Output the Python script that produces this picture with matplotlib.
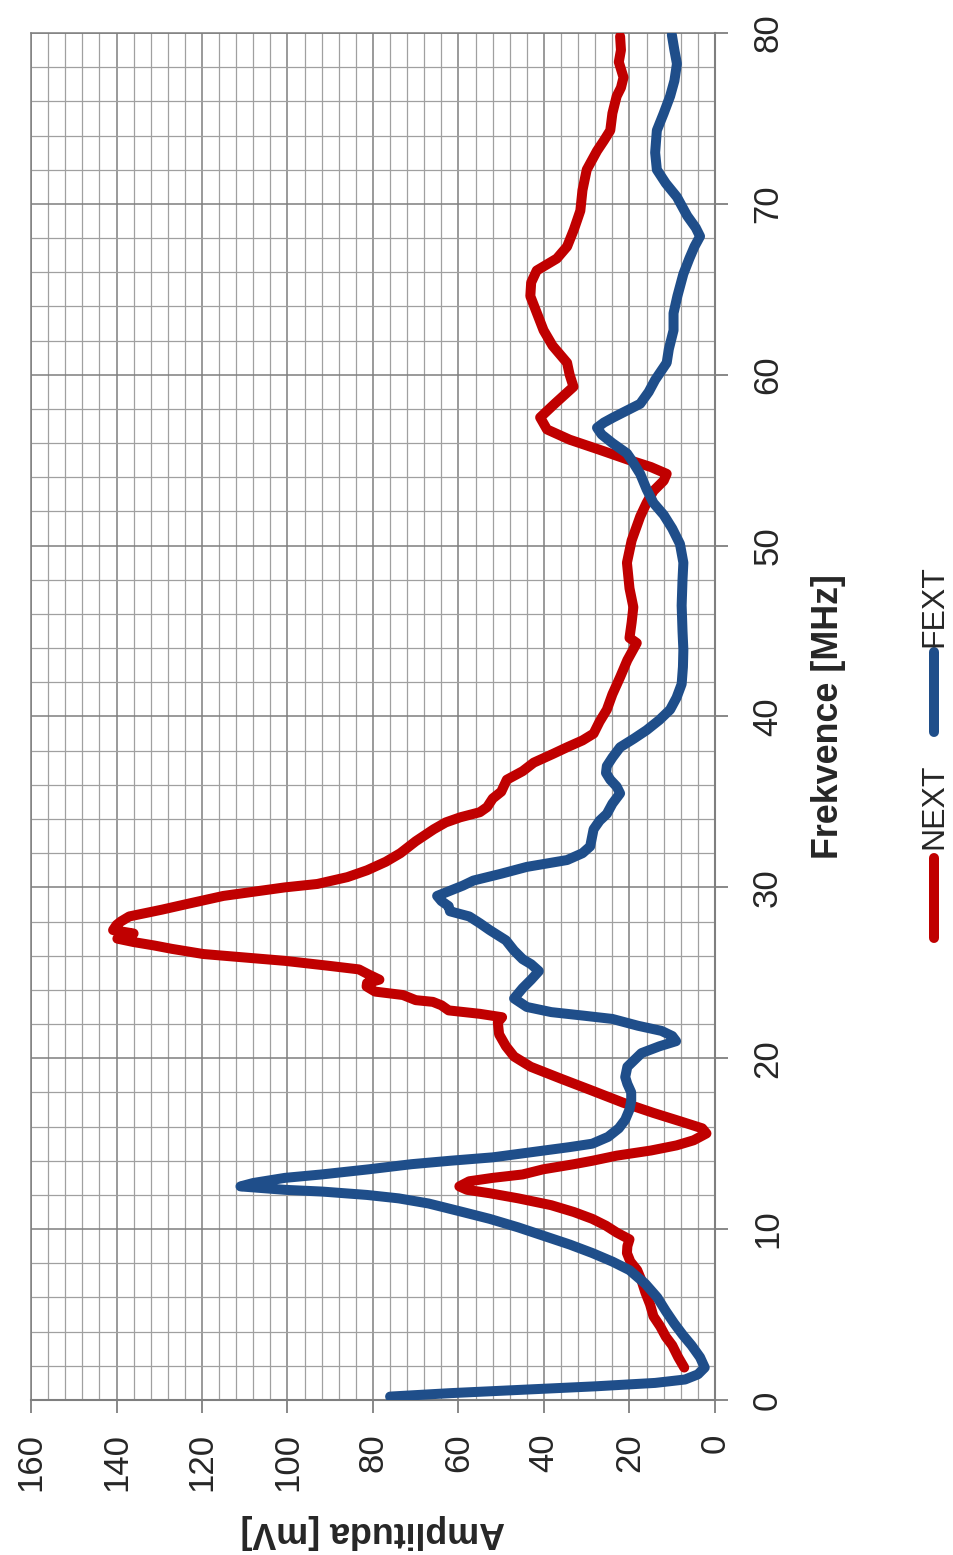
import matplotlib
matplotlib.use("Agg")
import matplotlib.pyplot as plt
from matplotlib.lines import Line2D
from matplotlib.ticker import MultipleLocator

plt.rcParams['font.family'] = ['Liberation Sans', 'DejaVu Sans']

# NEXT measurement: frequency [MHz] and amplitude [mV]
next_freq = [1.9, 2.5, 3.2, 3.7, 4.3, 4.9, 5.6, 6.3, 7.0, 7.6, 8.1, 8.6, 9.0, 9.4,
             9.8, 10.2, 10.6, 11.0, 11.4, 11.8, 12.1, 12.3, 12.5, 12.8, 13.0, 13.2,
             13.5, 13.8, 14.0, 14.3, 14.6, 14.9, 15.2, 15.6, 15.9, 16.3, 16.8, 17.4,
             18.1, 18.8, 19.5, 20.1, 20.7, 21.4, 22.1, 22.4, 22.6, 22.8, 23.1, 23.3,
             23.4, 23.7, 23.9, 24.2, 24.4, 24.6, 24.9, 25.2, 25.4, 25.7, 25.9, 26.1,
             26.4, 26.6, 26.8, 27.0, 27.3, 27.5, 27.8, 28.0, 28.3, 28.7, 29.0, 29.5,
             30.0, 30.2, 30.6, 31.0, 31.5, 32.0, 32.7, 33.4, 33.8, 34.1, 34.4, 34.7,
             35.2, 35.6, 36.3, 36.8, 37.3, 37.8, 38.2, 38.6, 39.0, 39.7, 40.4, 41.3,
             42.3, 43.3, 44.3, 44.6, 45.5, 46.4, 47.5, 49.0, 50.3, 51.7, 52.5, 53.2,
             53.8, 54.2, 54.6, 55.0, 55.6, 56.2, 56.8, 57.5, 58.3, 59.3, 60.0, 60.7,
             61.7, 62.6, 63.5, 64.6, 65.4, 66.1, 66.8, 67.5, 68.5, 69.6, 70.8, 72.0,
             73.1, 73.7, 74.3, 75.3, 76.3, 76.8, 77.4, 78.3, 79.0, 79.8]
next_amp = [7.2, 8.6, 10.0, 11.5, 12.8, 14.4, 15.2, 16.3, 17.2, 18.2, 19.8, 20.6, 20.5, 20.0,
            23.0, 25.5, 28.7, 33.0, 38.3, 46.0, 52.7, 58.0, 59.8, 57.5, 52.0, 45.0,
            40.2, 33.0, 28.7, 23.0, 15.0, 9.0, 5.0, 2.0, 3.0, 8.0, 14.4, 21.5,
            28.7, 36.0, 43.1, 47.0, 48.9, 50.5, 50.8, 49.8, 55.0, 62.3, 64.0, 66.0,
            70.0, 73.0, 79.5, 81.5, 81.4, 78.5, 81.0, 83.3, 90.0, 100.6, 110.0, 119.7,
            127.0, 131.2, 136.0, 139.8, 136.0, 140.8, 140.0, 139.0, 137.0, 129.3, 124.0, 115.0,
            100.6, 93.0, 86.0, 81.4, 77.0, 73.6, 70.0, 65.8, 63.0, 59.6, 55.0, 53.3,
            52.0, 50.0, 48.7, 45.0, 42.4, 38.0, 34.6, 31.0, 28.4, 27.0, 25.3, 24.0,
            22.2, 20.5, 18.3, 20.0, 19.5, 19.1, 20.0, 20.6, 19.5, 17.5, 16.0, 14.4,
            12.0, 11.3, 15.0, 20.0, 26.9, 34.0, 39.3, 40.9, 37.5, 33.1, 34.0, 34.6,
            38.0, 40.1, 41.5, 43.2, 43.0, 41.7, 37.0, 34.6, 33.0, 31.5, 31.0, 30.0,
            27.6, 26.0, 24.5, 24.0, 23.0, 22.0, 21.4, 22.5, 22.0, 22.2]

# FEXT measurement: frequency [MHz] and amplitude [mV]
fext_freq = [0.2, 0.4, 0.6, 0.8, 1.0, 1.2, 1.5, 1.9, 2.5, 3.2, 3.8, 4.5, 5.2, 6.0,
             6.8, 7.6, 8.1, 8.6, 9.1, 9.6, 10.1, 10.6, 11.0, 11.5, 11.8, 12.0, 12.2,
             12.3, 12.5, 12.7, 13.0, 13.2, 13.5, 13.8, 14.0, 14.2, 14.5, 14.8, 15.0,
             15.4, 15.9, 16.4, 17.0, 17.5, 18.0, 18.5, 18.9, 19.5, 20.3, 20.7, 21.0,
             21.3, 21.6, 21.9, 22.3, 22.5, 22.7, 23.0, 23.5, 24.1, 24.6, 25.1, 25.5,
             25.8, 26.3, 26.9, 27.5, 27.9, 28.3, 28.6, 28.9, 29.2, 29.5, 29.8, 30.1,
             30.4, 30.8, 31.2, 31.6, 32.0, 32.4, 32.9, 33.4, 33.9, 34.3, 34.9, 35.5,
             35.9, 36.3, 36.7, 37.1, 37.6, 38.2, 38.7, 39.2, 39.8, 40.4, 41.1, 41.9,
             42.9, 43.9, 45.0, 46.5, 48.0, 49.0, 50.1, 51.0, 51.8, 52.5, 53.3, 54.2,
             55.0, 55.4, 56.0, 56.5, 56.9, 57.2, 57.5, 58.3, 59.0, 59.7, 60.7, 61.5,
             62.6, 63.6, 64.6, 65.9, 66.8, 67.5, 68.1, 68.6, 69.3, 70.4, 71.2, 72.0,
             73.0, 74.3, 75.3, 76.3, 77.2, 78.2, 79.0, 79.9]
fext_amp = [76.0, 62.0, 45.0, 28.0, 14.0, 7.0, 4.0, 2.4, 3.5, 5.5, 7.5, 9.6, 11.5, 13.5,
            16.3, 20.0, 24.0, 28.7, 34.0, 40.0, 46.0, 52.7, 59.0, 67.0, 74.0, 81.4, 92.0,
            100.6, 111.0, 108.0, 100.6, 92.0, 81.0, 71.0, 62.0, 52.0, 43.0, 34.0, 28.7,
            25.0, 22.5, 21.0, 20.0, 19.6, 19.6, 20.5, 21.0, 20.5, 17.2, 13.0, 9.1,
            10.0, 12.5, 18.0, 24.0, 31.0, 38.3, 44.0, 47.0, 45.0, 43.0, 41.2, 43.0,
            45.0, 47.0, 48.9, 52.7, 55.0, 57.5, 62.0, 62.3, 64.0, 65.0, 62.0, 59.0,
            56.5, 50.0, 44.0, 34.6, 31.0, 29.2, 28.8, 28.4, 27.0, 25.3, 24.0, 22.2,
            23.0, 24.5, 25.5, 25.3, 24.0, 22.2, 19.0, 16.0, 13.0, 10.5, 9.0, 7.8,
            7.5, 7.4, 7.6, 7.8, 7.6, 7.4, 8.2, 10.0, 12.0, 14.4, 16.0, 17.5,
            19.5, 20.6, 24.0, 26.5, 27.6, 26.0, 23.8, 17.5, 15.5, 14.0, 11.3, 10.8,
            9.7, 9.7, 8.8, 7.4, 6.0, 4.8, 3.5, 4.5, 6.5, 8.9, 11.5, 13.6,
            14.0, 13.6, 12.0, 10.5, 9.5, 8.9, 9.5, 10.1]

series_names = ["NEXT", "FEXT"]
series_colors = ["#C00000", "#1F4E8A"]
amp_ticks = [0, 20, 40, 60, 80, 100, 120, 140, 160]
freq_ticks = [0, 10, 20, 30, 40, 50, 60, 70, 80]
xlabel_text = "Frekvence [MHz]"
ylabel_text = "Amplituda [mV]"

W, H = 954, 1555
fig = plt.figure(figsize=(W / 100, H / 100), dpi=100)
fig.patch.set_facecolor("white")

# Plot area (chart is laid out turned on its side: frequency runs upward)
left, right, top, bottom = 31, 715, 33, 1400
ax = fig.add_axes([left / W, 1 - bottom / H, (right - left) / W, (bottom - top) / H])

lw = 7.2
ax.plot(next_amp, next_freq, color=series_colors[0], lw=lw,
        solid_capstyle="round", solid_joinstyle="round", zorder=3)
ax.plot(fext_amp, fext_freq, color=series_colors[1], lw=lw,
        solid_capstyle="round", solid_joinstyle="round", zorder=4)

ax.set_xlim(160, 0)
ax.set_ylim(0, 80)

ax.xaxis.set_major_locator(MultipleLocator(20))
ax.xaxis.set_minor_locator(MultipleLocator(4))
ax.yaxis.set_major_locator(MultipleLocator(10))
ax.yaxis.set_minor_locator(MultipleLocator(2))

ax.grid(which="major", color="#7f7f7f", lw=1.1, zorder=0)
ax.grid(which="minor", color="#a0a0a0", lw=0.9, zorder=0)
ax.set_axisbelow(True)

ax.yaxis.tick_right()
for side in ["top", "left"]:
    ax.spines[side].set_color("#7f7f7f")
    ax.spines[side].set_linewidth(1.1)
for side in ["bottom", "right"]:
    ax.spines[side].set_color("#7f7f7f")
    ax.spines[side].set_linewidth(1.5)

ax.set_xticks(amp_ticks)
ax.set_xticklabels([str(v) for v in amp_ticks], rotation=90, va="top", ha="center")
ax.set_yticks(freq_ticks)
ax.set_yticklabels([str(v) for v in freq_ticks], rotation=90, va="center", ha="left")

ax.tick_params(which="major", direction="out", length=9, width=1.3, color="#7f7f7f",
               labelsize=25, labelcolor="#262626")
ax.tick_params(axis="x", which="major", pad=15)
ax.tick_params(axis="y", which="major", pad=17)
ax.tick_params(which="minor", length=0)

# Axis titles
fig.text(373 / W, 1 - 1532 / H, ylabel_text, rotation=180, ha="center", va="center",
         fontsize=25.8, fontweight="bold", color="#262626")
fig.text(829 / W, 1 - 717 / H, xlabel_text, rotation=90, ha="center", va="center",
         fontsize=25.8, fontweight="bold", color="#262626")

# Legend, stacked upward along the right edge
legend_x = 934 / W
entries = [(series_names[0], series_colors[0], 938, 858, 806),
           (series_names[1], series_colors[1], 732, 652, 606)]
for name, color, y0, y1, ytext in entries:
    fig.add_artist(Line2D([legend_x, legend_x], [1 - y0 / H, 1 - y1 / H],
                          color=color, lw=lw, solid_capstyle="round",
                          transform=fig.transFigure))
    fig.text(legend_x, 1 - ytext / H, name, rotation=90, ha="center", va="center",
             fontsize=23, color="#262626")

fig.savefig("out.png", dpi=100, facecolor="white")
